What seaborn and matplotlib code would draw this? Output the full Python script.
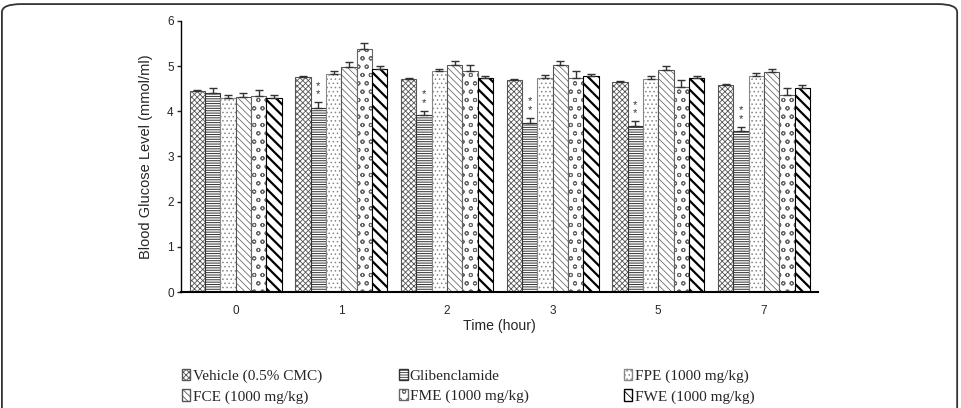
import numpy as np
import pandas as pd
import matplotlib
matplotlib.use("Agg")
import matplotlib.pyplot as plt
import seaborn as sns
from matplotlib.patches import Patch, FancyBboxPatch

sns.set_theme(style="white")
plt.rcParams['font.family'] = ['Liberation Sans', 'DejaVu Sans']
plt.rcParams['hatch.linewidth'] = 0.6

# ---- data ----
times = ['0', '1', '2', '3', '5', '7']
groups = ['Vehicle (0.5% CMC)', 'Glibenclamide', 'FPE (1000 mg/kg)',
          'FCE (1000 mg/kg)', 'FME (1000 mg/kg)', 'FWE (1000 mg/kg)']

vehicle = [4.44, 4.76, 4.71, 4.69, 4.64, 4.59]
glib = [4.40, 4.08, 3.91, 3.75, 3.68, 3.56]
fpe = [4.30, 4.82, 4.88, 4.74, 4.71, 4.79]
fce = [4.32, 4.98, 5.03, 5.03, 4.91, 4.86]
fme = [4.34, 5.37, 4.90, 4.74, 4.54, 4.37]
fwe = [4.29, 4.93, 4.73, 4.78, 4.73, 4.52]

vehicle_err = [0.02, 0.02, 0.02, 0.02, 0.02, 0.02]
glib_err = [0.12, 0.12, 0.10, 0.10, 0.10, 0.10]
fpe_err = [0.07, 0.06, 0.06, 0.06, 0.06, 0.06]
fce_err = [0.08, 0.10, 0.08, 0.08, 0.10, 0.08]
fme_err = [0.14, 0.15, 0.12, 0.14, 0.14, 0.14]
fwe_err = [0.08, 0.08, 0.06, 0.05, 0.06, 0.05]

means = [vehicle, glib, fpe, fce, fme, fwe]
errs = [vehicle_err, glib_err, fpe_err, fce_err, fme_err, fwe_err]

rows = []
for g, m, e in zip(groups, means, errs):
    for t, v, s in zip(times, m, e):
        rows.append({'Time': t, 'Group': g, 'Glucose': v, 'SEM': s})
df = pd.DataFrame(rows)

hatches = ['xxxxxx', '-------', '....', '\\\\\\\\\\', 'oo', '\\\\\\']
edges = ['#555555', '#333333', '#888888', '#555555', '#666666', '#000000']
hatch_lw = [0.6, 0.7, 0.6, 0.5, 0.7, 1.6]

fig = plt.figure(figsize=(9.61, 4.08), dpi=100)
ax = fig.add_axes([0.188, 0.284, 0.663, 0.665])

sns.barplot(data=df, x='Time', y='Glucose', hue='Group', order=times,
            hue_order=groups, width=0.87, errorbar=None,
            palette=['white'] * 6, edgecolor='#444444', linewidth=0.8,
            legend=False, ax=ax)

bar_containers = list(ax.containers)
for i, cont in enumerate(bar_containers):
    xs, hs = [], []
    for p in cont.patches:
        p.set_hatch(hatches[i])
        p.set_edgecolor(edges[i])
        if hasattr(p, 'set_hatch_linewidth'):
            p.set_hatch_linewidth(hatch_lw[i])
        xs.append(p.get_x() + p.get_width() / 2)
        hs.append(p.get_height())
    e = np.array(errs[i])
    ax.errorbar(xs, hs, yerr=[np.zeros_like(e), e], fmt='none',
                ecolor='#333333', elinewidth=1, capsize=3, capthick=1)
    if groups[i] == 'Glibenclamide':
        for x, h, s in list(zip(xs, hs, e))[1:]:
            ax.text(x, h + s + 0.06, '*\n*', ha='center', va='bottom',
                    fontsize=8, linespacing=0.85, color='#333333')

ax.set_ylim(0, 6)
ax.set_xlim(-0.52, 5.51)
ax.set_yticks(range(0, 7))
ax.set_xlabel('Time (hour)', fontsize=10.2, labelpad=2)
ax.set_ylabel('Blood Glucose Level (mmol/ml)', fontsize=10.5, labelpad=10)
ax.tick_params(axis='y', left=True, length=3, width=1, labelsize=8.5, pad=2)
ax.tick_params(axis='x', bottom=False, labelsize=8.5, pad=3)
sns.despine(ax=ax)
for s in ['left', 'bottom']:
    ax.spines[s].set_color('black')
ax.spines['left'].set_linewidth(1.0)
ax.spines['bottom'].set_linewidth(1.5)

# legend below: three single-column legends, serif font
handles = [Patch(facecolor='white', edgecolor=edges[i], hatch=hatches[i],
                 label=groups[i]) for i in range(6)]
col_x = [0.183, 0.409, 0.643]
for c, x0 in enumerate(col_x):
    idx = [c, c + 3]
    fig.legend([handles[k] for k in idx], [groups[k] for k in idx],
               ncol=1, loc='upper left', bbox_to_anchor=(x0, 0.11),
               frameon=False, prop={'family': 'Liberation Serif', 'size': 11},
               handlelength=0.55, handleheight=0.75, handletextpad=0.15,
               labelspacing=0.4, borderaxespad=0)

frame = FancyBboxPatch((0.002, -0.2), 0.994, 1.19, transform=fig.transFigure,
                       boxstyle='round,pad=0,rounding_size=0.02',
                       facecolor='none', edgecolor='#333333', linewidth=1.3)
fig.patches.append(frame)

fig.savefig('out.png', dpi=100)
